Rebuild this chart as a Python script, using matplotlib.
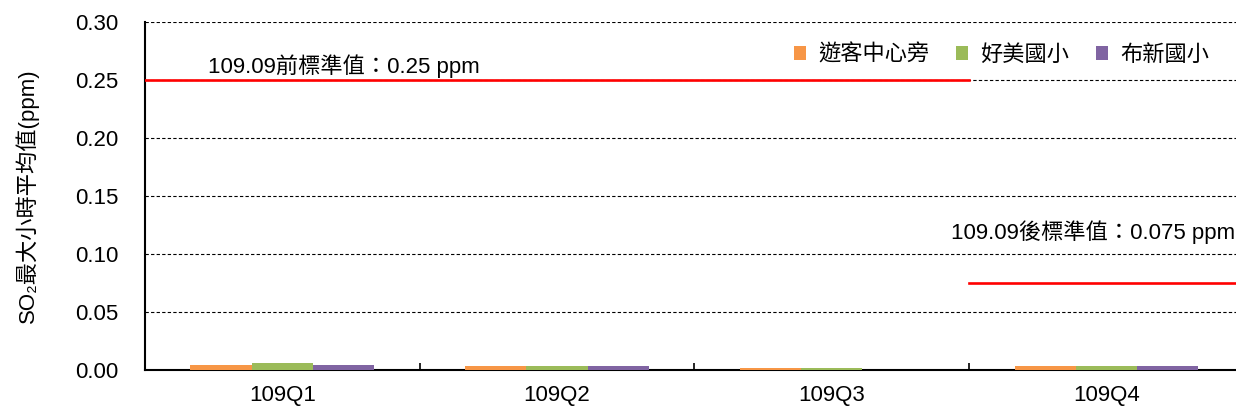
import numpy as np
import matplotlib
matplotlib.use("Agg")
import matplotlib.pyplot as plt

plt.rcParams['font.family'] = ['Liberation Sans', 'Noto Sans CJK TC', 'DejaVu Sans']

# 資料
quarters = ['109Q1', '109Q2', '109Q3', '109Q4']
stations = ['遊客中心旁', '好美國小', '布新國小']
so2_visitor = [0.004, 0.003, 0.0015, 0.003]
so2_haomei = [0.0055, 0.003, 0.0015, 0.003]
so2_buxin = [0.004, 0.003, 0.0, 0.003]
std_before = 0.25
std_after = 0.075
std_change_x = 2.5  # 109.09 標準改變處 (類別軸位置)

colors = ['#F79646', '#9BBB59', '#8064A2']
FS = 16

fig = plt.figure(figsize=(12.36, 4.12), dpi=100)
ax = fig.add_axes([0.1173, 0.103, 0.889, 0.843])

x = np.arange(len(quarters))
w = 0.223
for i, (vals, name) in enumerate(zip([so2_visitor, so2_haomei, so2_buxin], stations)):
    ax.bar(x + (i - 1) * w, vals, width=w, color=colors[i], label=name, zorder=3)

# 標準值線
ax.plot([-0.5, std_change_x], [std_before, std_before], color='#FF0000', lw=1.9, zorder=4)
ax.plot([std_change_x, 3.5], [std_after, std_after], color='#FF0000', lw=1.9, zorder=4)
ax.text(-0.27, 0.262, '109.09前標準值：0.25 ppm', fontsize=FS, ha='left', va='center')
ax.text(0.999, 1 - 232 / 412.0, '109.09後標準值：0.075 ppm', fontsize=FS,
        ha='right', va='center', transform=fig.transFigure)

ax.set_xlim(-0.5, 3.5)
ax.set_ylim(0, 0.30)
ax.set_yticks(np.arange(0, 0.301, 0.05))
ax.set_yticklabels(['%.2f' % v for v in np.arange(0, 0.301, 0.05)], fontsize=FS)
ax.set_xticks(x)
ax.set_xticklabels(quarters, fontsize=FS)
ax.set_xticks(np.arange(-0.5, 3.6, 1), minor=True)
ax.tick_params(axis='x', which='major', length=0, pad=11)
ax.tick_params(axis='x', which='minor', direction='in', length=5, width=1.2)
ax.tick_params(axis='y', length=0, pad=19)

ax.yaxis.grid(True, color='black', lw=0.8, linestyle=(0, (3, 2)), zorder=0)
ax.set_axisbelow(True)
for s in ['top', 'right']:
    ax.spines[s].set_visible(False)
ax.spines['left'].set_linewidth(1.5)
ax.spines['bottom'].set_linewidth(1.5)

ax.set_ylabel('SO₂最大小時平均值(ppm)', fontsize=FS, labelpad=26)

ax.legend(loc='center right', bbox_to_anchor=(0.987, 0.905), ncol=3, frameon=False,
          fontsize=FS, handlelength=0.55, handleheight=0.55, handletextpad=0.55,
          columnspacing=1.2)

fig.savefig('out.png', dpi=100)
